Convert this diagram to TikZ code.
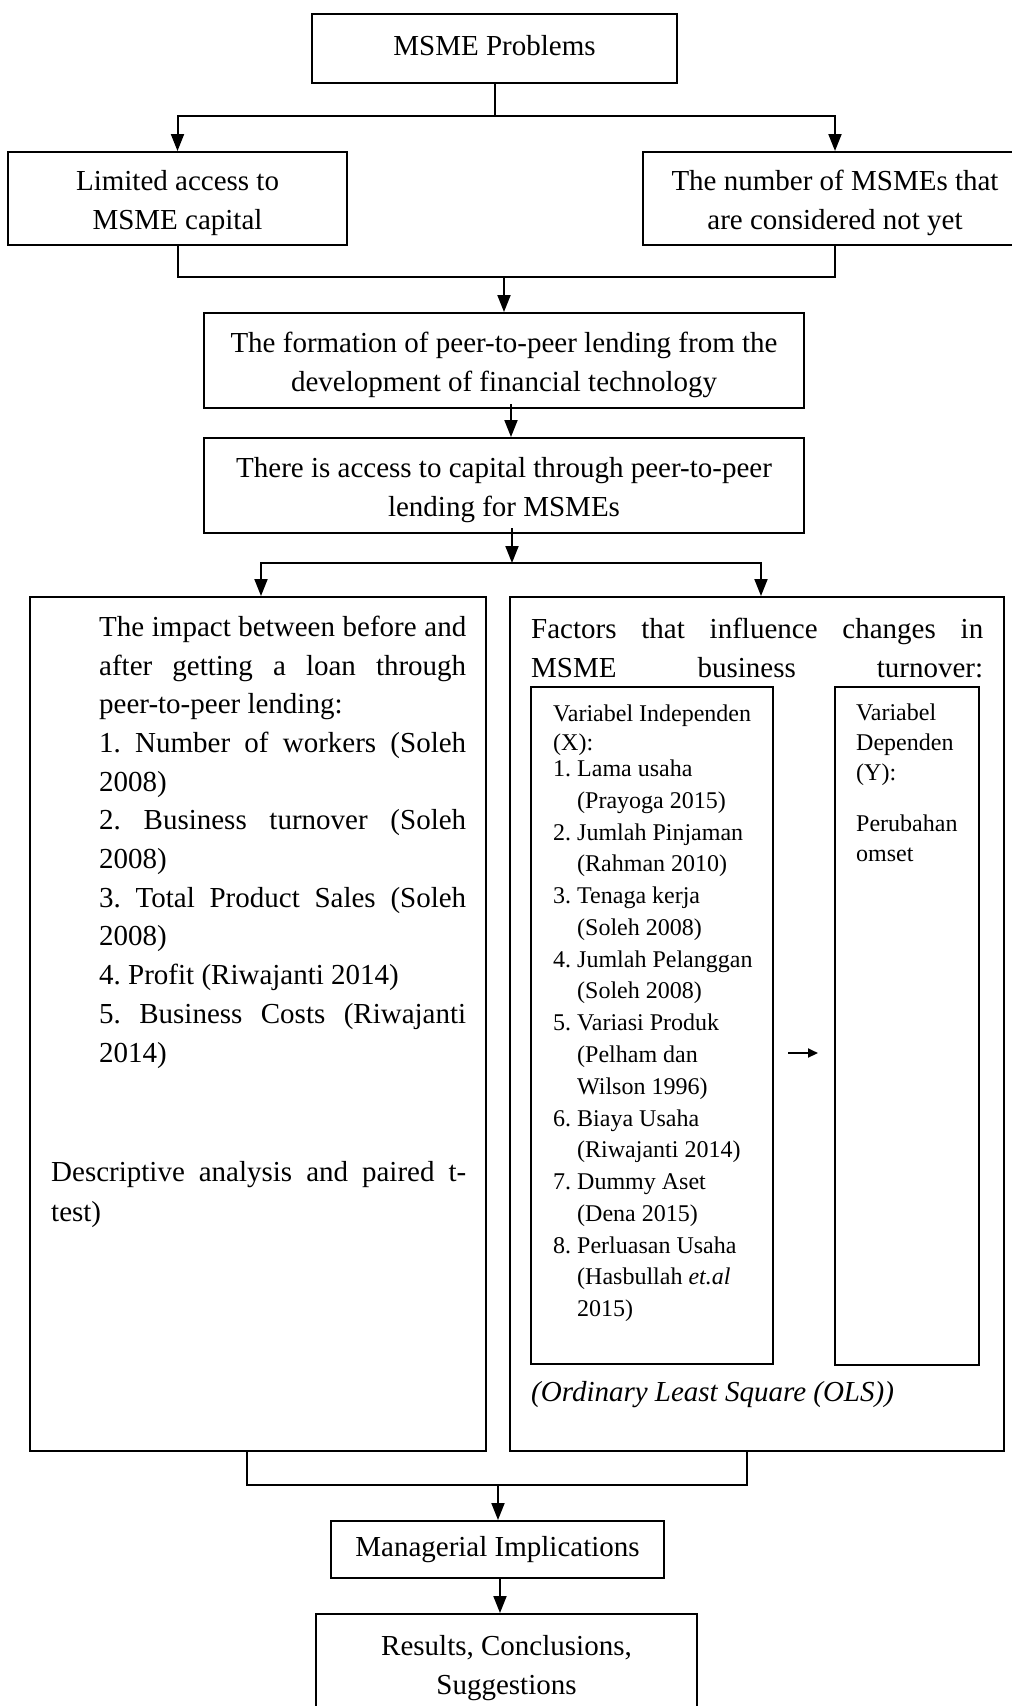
\documentclass[tikz,border=0pt]{standalone}
\usepackage{fontspec}
\setmainfont{Liberation Serif}
\usetikzlibrary{arrows.meta}
\frenchspacing
\newcommand{\mainfs}{\fontsize{29}{38.7}\selectfont}
\newcommand{\gonefs}{\fontsize{24}{31.76}\selectfont}
\newcommand{\gtwofs}{\fontsize{24}{30}\selectfont}
\newcommand{\jl}[2]{{\spaceskip=0pt\xspaceskip=0pt\makebox[#1][s]{#2}}}
\newcommand{\upstrut}{\rule{0pt}{29pt}}
\tikzset{
  box/.style={draw, line width=2pt, inner sep=0pt, align=center, font=\mainfs},
  frame/.style={draw, line width=2pt, inner sep=0pt},
  innerframe/.style={draw, line width=1.8pt, inner sep=0pt},
  conn/.style={line width=2pt},
  arr/.style={line width=2pt, -{Triangle[length=17pt,width=13pt]}},
  smallarr/.style={line width=2pt, -{Triangle[length=10pt,width=9pt]}},
  txt/.style={anchor=north west, inner sep=0pt, align=flush left},
}
\begin{document}
\begin{tikzpicture}[x=1pt, y=-1pt]
\useasboundingbox (0,0) rectangle (1012,1706);
\clip (0,0) rectangle (1012,1706);

% main boxes
\node[box, minimum width=365pt, minimum height=69pt] (A) at (494.5,48.5) {\rule[-6pt]{0pt}{6pt}MSME Problems};
\node[box, minimum width=339pt, minimum height=93pt] (B) at (177.5,198.5) {\upstrut Limited access to\\MSME capital};
\node[box, minimum width=384pt, minimum height=93pt] (C) at (835,198.5) {\upstrut The number of MSMEs that\\are considered not yet};
\node[box, minimum width=600pt, minimum height=95pt] (D) at (504,360.5) {\upstrut The formation of peer-to-peer lending from the\\development of financial technology};
\node[box, minimum width=600pt, minimum height=95pt] (E) at (504,485.5) {\upstrut There is access to capital through peer-to-peer\\lending for MSMEs};
\node[frame, minimum width=456pt, minimum height=854pt] (F) at (258,1024) {};
\node[frame, minimum width=494pt, minimum height=854pt] (G) at (757,1024) {};
\node[innerframe, minimum width=242pt, minimum height=677pt] (G1) at (652,1025.5) {};
\node[innerframe, minimum width=144pt, minimum height=678pt] (G2) at (907,1026) {};
\node[box, minimum width=333pt, minimum height=57pt] (H) at (497.5,1549.5) {Managerial Implications};
\node[box, minimum width=381pt, minimum height=99pt] (I) at (506.5,1663.5) {\upstrut Results, Conclusions,\\Suggestions};

% left big box text
\node[txt, font=\mainfs, text width=367pt] (ftext) at (99,609) {\strut\jl{367pt}{The impact between before and}\\
\jl{367pt}{after getting a loan through}\\
peer-to-peer lending:\\
\jl{367pt}{1. Number of workers (Soleh}\\
2008)\\
\jl{367pt}{2. Business turnover (Soleh}\\
2008)\\
\jl{367pt}{3. Total Product Sales (Soleh}\\
2008)\\
4. Profit (Riwajanti 2014)\\
\jl{367pt}{5. Business Costs (Riwajanti}\\
2014)};
\node[txt, font=\fontsize{29}{40}\selectfont, text width=415pt] (desc) at (51,1153) {\strut\jl{415pt}{Descriptive analysis and paired t-}\\test)};

% right big box text
\node[txt, font=\fontsize{29}{39}\selectfont, text width=452pt] (gtext) at (531,611) {\strut\jl{452pt}{Factors that influence changes in}\\
\jl{452pt}{MSME business turnover:}};
\node[txt, font=\gonefs] (g1text) at (553,698.8) {\strut Variabel Independen\\[-2.76pt]
(X):\\[-5.36pt]
1. Lama usaha\\
\hspace*{24pt}(Prayoga 2015)\\
2. Jumlah Pinjaman\\
\hspace*{24pt}(Rahman 2010)\\
3. Tenaga kerja\\
\hspace*{24pt}(Soleh 2008)\\
4. Jumlah Pelanggan\\
\hspace*{24pt}(Soleh 2008)\\
5. Variasi Produk\\
\hspace*{24pt}(Pelham dan\\
\hspace*{24pt}Wilson 1996)\\
6. Biaya Usaha\\
\hspace*{24pt}(Riwajanti 2014)\\
7. Dummy Aset\\
\hspace*{24pt}(Dena 2015)\\
8. Perluasan Usaha\\
\hspace*{24pt}(Hasbullah \textit{et.al}\\
\hspace*{24pt}2015)};
\node[txt, font=\gtwofs] (g2text) at (856,699) {\strut Variabel\\Dependen\\(Y):\\[21pt]Perubahan\\omset};
\node[anchor=base west, inner sep=0pt, font=\mainfs\itshape] (ols) at (531,1401) {(Ordinary Least Square (OLS))};

% connectors
\coordinate (j1) at (494.5,116);
\draw[conn] (A.south) -- (j1);
\draw[arr] (j1) -| (B.north);
\draw[arr] (j1) -| (C.north);
\coordinate (j2) at (504,277);
\draw[conn] (B.south) |- (j2);
\draw[conn] (C.south) |- (j2);
\draw[arr] (j2) -- (D.north);
\draw[arr] ([xshift=7pt,yshift=5pt]D.south) -- ([xshift=7pt]D.south |- E.north);
\coordinate (j3) at (512,563);
\draw[arr] ([xshift=8pt,yshift=6pt]E.south) -- (j3);
\draw[arr] (j3) -| ([xshift=3pt]F.north);
\draw[arr] (j3) -| ([xshift=4pt]G.north);
\coordinate (j4) at (498,1485);
\draw[conn] ([xshift=-11pt]F.south) |- (j4);
\draw[conn] ([xshift=-10pt]G.south) |- (j4);
\draw[arr] (j4) -- (j4 |- H.north);
\draw[arr] ([xshift=2.5pt]H.south) -- ([xshift=2.5pt]H.south |- I.north);
\coordinate (sa1) at (788,1053);
\coordinate (sa2) at (818,1053);
\draw[smallarr] (sa1) -- (sa2);
\end{tikzpicture}
\end{document}
